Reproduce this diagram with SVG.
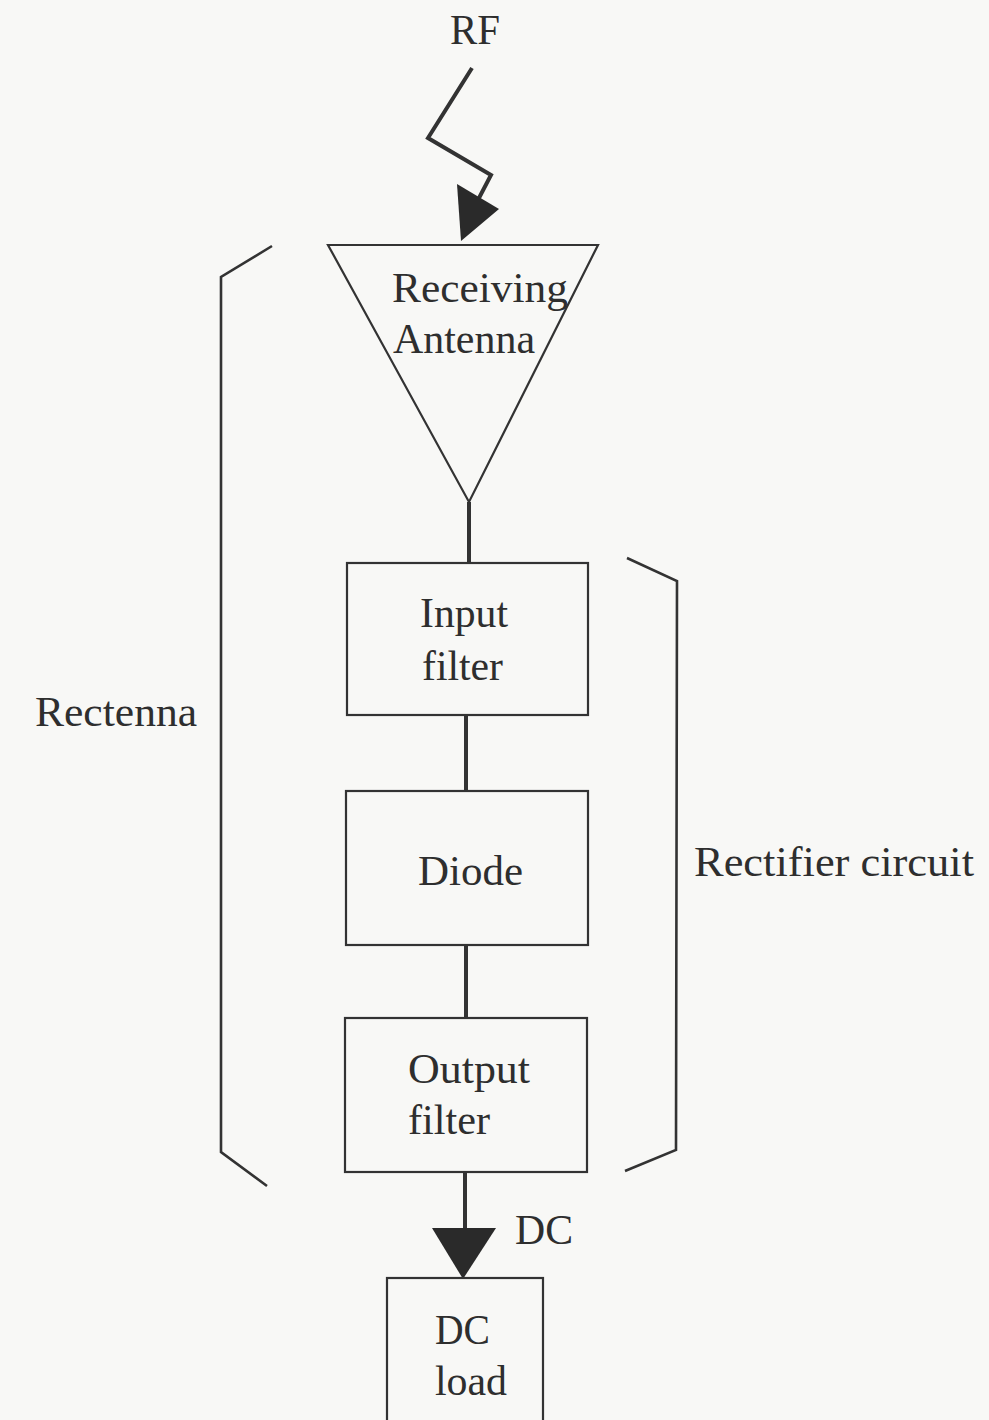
<svg xmlns="http://www.w3.org/2000/svg" width="989" height="1420" viewBox="0 0 989 1420">
  <style>
    .box { fill: none; stroke: #333; stroke-width: 2.2; }
    .wire { fill: none; stroke: #333; stroke-width: 4; stroke-linejoin: miter; }
    .brace { fill: none; stroke: #333; stroke-width: 2.6; }
    .head { fill: #2a2a2a; stroke: none; }
    text { font-family: "Liberation Serif", "Times New Roman", serif; font-size: 42px; fill: #2e2e2e; }
  </style>
  <rect width="989" height="1420" fill="#f8f8f6"/>

  <!-- incoming RF -->
  <g id="rf">
    <text x="450" y="44" textLength="50" lengthAdjust="spacingAndGlyphs">RF</text>
  </g>

  <g id="connectors">
    <!-- zig-zag RF ray into antenna -->
    <polyline class="wire" points="472,68 428,138 491,175 479,198"/>
    <polygon class="head" points="457,184 499,209 461,241"/>
    <!-- antenna to input filter -->
    <line class="wire" x1="469" y1="502" x2="469" y2="563"/>
    <!-- input filter to diode -->
    <line class="wire" x1="466" y1="715" x2="466" y2="791"/>
    <!-- diode to output filter -->
    <line class="wire" x1="466" y1="945" x2="466" y2="1018"/>
    <!-- output filter to DC load -->
    <line class="wire" x1="465" y1="1172" x2="465" y2="1232"/>
    <polygon class="head" points="432,1228 496,1228 463,1279"/>
  </g>

  <g id="antenna">
    <polygon class="box" points="328,245 598,245 469,502"/>
    <text x="392" y="302" textLength="176" lengthAdjust="spacingAndGlyphs">Receiving</text>
    <text x="393" y="353" textLength="142" lengthAdjust="spacingAndGlyphs">Antenna</text>
  </g>

  <g id="input-filter">
    <rect class="box" x="347" y="563" width="241" height="152"/>
    <text x="420" y="627" textLength="88" lengthAdjust="spacingAndGlyphs">Input</text>
    <text x="422" y="680" textLength="81" lengthAdjust="spacingAndGlyphs">filter</text>
  </g>

  <g id="diode">
    <rect class="box" x="346" y="791" width="242" height="154"/>
    <text x="418" y="885" textLength="105" lengthAdjust="spacingAndGlyphs">Diode</text>
  </g>

  <g id="output-filter">
    <rect class="box" x="345" y="1018" width="242" height="154"/>
    <text x="408" y="1083" textLength="122" lengthAdjust="spacingAndGlyphs">Output</text>
    <text x="408" y="1134" textLength="82" lengthAdjust="spacingAndGlyphs">filter</text>
  </g>

  <g id="dc-label">
    <text x="515" y="1244" textLength="58" lengthAdjust="spacingAndGlyphs">DC</text>
  </g>

  <g id="dc-load">
    <rect class="box" x="387" y="1278" width="156" height="150"/>
    <text x="435" y="1344" textLength="55" lengthAdjust="spacingAndGlyphs">DC</text>
    <text x="435" y="1395" textLength="72" lengthAdjust="spacingAndGlyphs">load</text>
  </g>

  <!-- rectenna bracket -->
  <g id="rectenna">
    <polyline class="brace" points="272,246 221,277 221,1152 267,1186"/>
    <text x="35" y="726" textLength="162" lengthAdjust="spacingAndGlyphs">Rectenna</text>
  </g>

  <!-- rectifier circuit bracket -->
  <g id="rectifier">
    <polyline class="brace" points="627,558 677,581 676,1150 625,1171"/>
    <text x="694" y="876" textLength="280" lengthAdjust="spacingAndGlyphs">Rectifier circuit</text>
  </g>
</svg>
